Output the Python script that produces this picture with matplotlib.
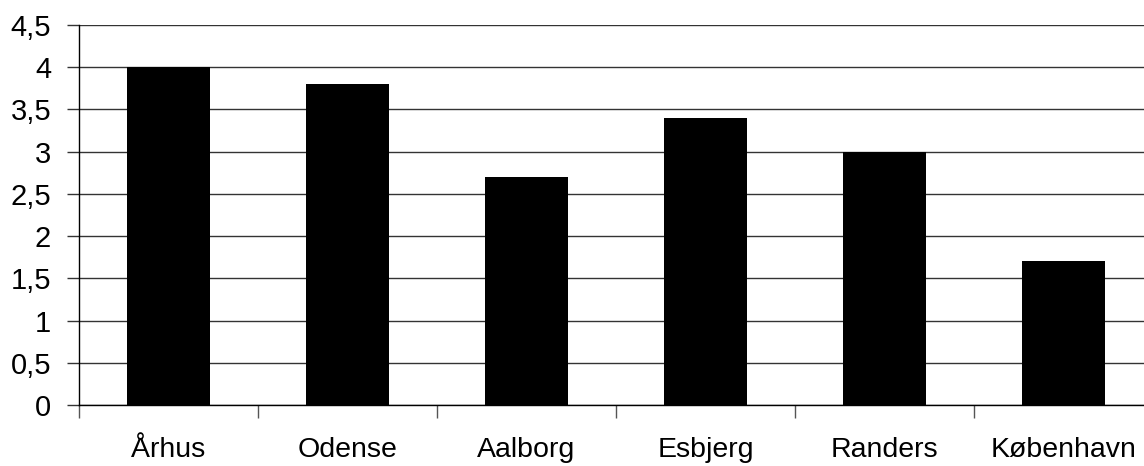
import numpy as np
import matplotlib.pyplot as plt
from matplotlib.ticker import FuncFormatter, FixedLocator

plt.rcParams['font.family'] = ['Liberation Sans', 'DejaVu Sans']

cities = ['Århus', 'Odense', 'Aalborg', 'Esbjerg', 'Randers', 'København']
values = [4.0, 3.8, 2.7, 3.4, 3.0, 1.7]
yticks = [0, 0.5, 1, 1.5, 2, 2.5, 3, 3.5, 4, 4.5]

fig = plt.figure(figsize=(11.44, 4.66), dpi=100)
ax = fig.add_axes([79/1144, 61/466, 1074/1144, 380/466])

x = np.arange(len(cities))
ax.bar(x, values, width=0.465, color='black', zorder=3)

ax.set_xlim(-0.5, len(cities) - 0.5)
ax.set_ylim(0, 4.5)
ax.set_yticks(yticks)
ax.yaxis.set_major_formatter(FuncFormatter(lambda v, p: ('%g' % v).replace('.', ',')))
ax.yaxis.grid(True, color='#333333', linewidth=1)
ax.set_axisbelow(True)

# category labels centred, tick marks at boundaries
ax.set_xticks(x)
ax.set_xticklabels(cities, fontsize=20.5)
ax.tick_params(axis='x', which='major', length=0, pad=23)
ax.xaxis.set_minor_locator(FixedLocator(np.arange(len(cities)) - 0.5))
ax.tick_params(axis='x', which='minor', length=9, width=1, color='#555555')
ax.tick_params(axis='y', length=9, width=1, color='#333333', labelsize=21, pad=11)

for s in ['top', 'right']:
    ax.spines[s].set_visible(False)
ax.spines['left'].set_linewidth(1)
ax.spines['bottom'].set_linewidth(1)

plt.savefig('out.png', dpi=100)
